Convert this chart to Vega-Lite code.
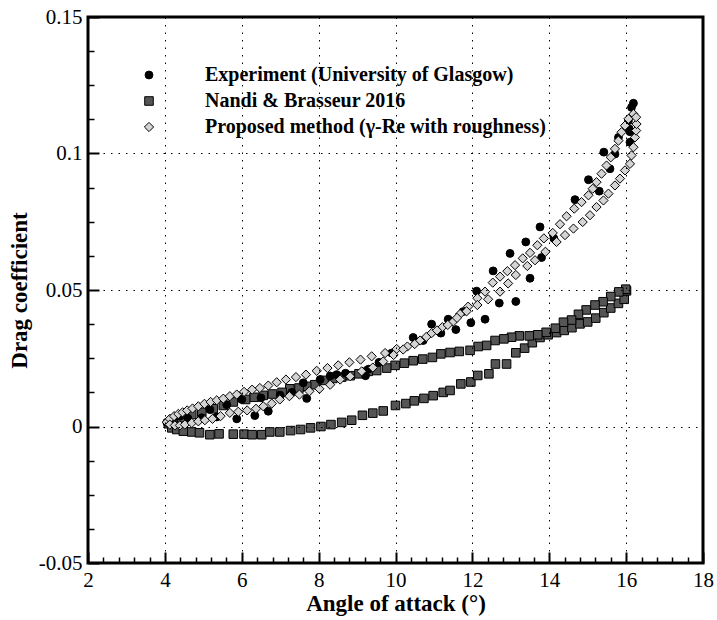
{
  "$schema": "https://vega.github.io/schema/vega-lite/v6.json",
  "width": 615,
  "height": 546,
  "autosize": {"type": "none"},
  "padding": {"left": 88, "top": 17, "right": 14, "bottom": 57},
  "background": "white",
  "config": {
    "view": {"stroke": "black", "strokeWidth": 3},
    "font": "Times New Roman, Liberation Serif, serif",
    "axis": {"labelFont": "Times New Roman, Liberation Serif, serif", "titleFont": "Times New Roman, Liberation Serif, serif"},
    "legend": {"labelFont": "Times New Roman, Liberation Serif, serif"}
  },
  "datasets": {
    "pts": [
      {"s":"Nandi & Brasseur 2016","a":4.09,"cd":0.001},{"s":"Nandi & Brasseur 2016","a":4.18,"cd":-0.0005},{"s":"Nandi & Brasseur 2016","a":4.31,"cd":-0.0011},{"s":"Nandi & Brasseur 2016","a":4.48,"cd":-0.0017},{"s":"Nandi & Brasseur 2016","a":4.7,"cd":-0.002},{"s":"Nandi & Brasseur 2016","a":4.9,"cd":-0.0023},{"s":"Nandi & Brasseur 2016","a":5.17,"cd":-0.003},{"s":"Nandi & Brasseur 2016","a":5.41,"cd":-0.0027},{"s":"Nandi & Brasseur 2016","a":5.78,"cd":-0.0028},{"s":"Nandi & Brasseur 2016","a":6.06,"cd":-0.0028},{"s":"Nandi & Brasseur 2016","a":6.27,"cd":-0.003},{"s":"Nandi & Brasseur 2016","a":6.52,"cd":-0.003},{"s":"Nandi & Brasseur 2016","a":6.73,"cd":-0.002},{"s":"Nandi & Brasseur 2016","a":6.99,"cd":-0.002},{"s":"Nandi & Brasseur 2016","a":7.27,"cd":-0.0015},{"s":"Nandi & Brasseur 2016","a":7.53,"cd":-0.0011},{"s":"Nandi & Brasseur 2016","a":7.79,"cd":-0.0005},{"s":"Nandi & Brasseur 2016","a":8.06,"cd":0.0},{"s":"Nandi & Brasseur 2016","a":8.32,"cd":0.0007},{"s":"Nandi & Brasseur 2016","a":8.6,"cd":0.0015},{"s":"Nandi & Brasseur 2016","a":8.86,"cd":0.0023},{"s":"Nandi & Brasseur 2016","a":9.14,"cd":0.0041},{"s":"Nandi & Brasseur 2016","a":9.41,"cd":0.0049},{"s":"Nandi & Brasseur 2016","a":9.68,"cd":0.0057},{"s":"Nandi & Brasseur 2016","a":10.0,"cd":0.0077},{"s":"Nandi & Brasseur 2016","a":10.27,"cd":0.0084},{"s":"Nandi & Brasseur 2016","a":10.49,"cd":0.0094},{"s":"Nandi & Brasseur 2016","a":10.74,"cd":0.0103},{"s":"Nandi & Brasseur 2016","a":10.98,"cd":0.0113},{"s":"Nandi & Brasseur 2016","a":11.24,"cd":0.0125},{"s":"Nandi & Brasseur 2016","a":11.42,"cd":0.0132},{"s":"Nandi & Brasseur 2016","a":11.7,"cd":0.0156},{"s":"Nandi & Brasseur 2016","a":11.96,"cd":0.0163},{"s":"Nandi & Brasseur 2016","a":12.14,"cd":0.0187},{"s":"Nandi & Brasseur 2016","a":12.43,"cd":0.0193},{"s":"Nandi & Brasseur 2016","a":12.6,"cd":0.0229},{"s":"Nandi & Brasseur 2016","a":12.89,"cd":0.0229},{"s":"Nandi & Brasseur 2016","a":13.13,"cd":0.027},{"s":"Nandi & Brasseur 2016","a":13.36,"cd":0.0287},{"s":"Nandi & Brasseur 2016","a":13.56,"cd":0.0307},{"s":"Nandi & Brasseur 2016","a":13.76,"cd":0.0326},{"s":"Nandi & Brasseur 2016","a":13.97,"cd":0.0336},{"s":"Nandi & Brasseur 2016","a":14.19,"cd":0.0344},{"s":"Nandi & Brasseur 2016","a":14.39,"cd":0.0352},{"s":"Nandi & Brasseur 2016","a":14.59,"cd":0.0362},{"s":"Nandi & Brasseur 2016","a":14.8,"cd":0.0376},{"s":"Nandi & Brasseur 2016","a":15.0,"cd":0.0383},{"s":"Nandi & Brasseur 2016","a":15.21,"cd":0.0397},{"s":"Nandi & Brasseur 2016","a":15.42,"cd":0.0417},{"s":"Nandi & Brasseur 2016","a":15.6,"cd":0.0434},{"s":"Nandi & Brasseur 2016","a":15.8,"cd":0.0451},{"s":"Nandi & Brasseur 2016","a":15.95,"cd":0.0466},{"s":"Nandi & Brasseur 2016","a":16.01,"cd":0.0497},
      {"s":"Nandi & Brasseur 2016","a":15.99,"cd":0.0503},{"s":"Nandi & Brasseur 2016","a":15.81,"cd":0.0493},{"s":"Nandi & Brasseur 2016","a":15.6,"cd":0.0476},{"s":"Nandi & Brasseur 2016","a":15.4,"cd":0.0457},{"s":"Nandi & Brasseur 2016","a":15.19,"cd":0.0445},{"s":"Nandi & Brasseur 2016","a":14.96,"cd":0.0427},{"s":"Nandi & Brasseur 2016","a":14.76,"cd":0.0411},{"s":"Nandi & Brasseur 2016","a":14.58,"cd":0.039},{"s":"Nandi & Brasseur 2016","a":14.37,"cd":0.0382},{"s":"Nandi & Brasseur 2016","a":14.16,"cd":0.036},{"s":"Nandi & Brasseur 2016","a":13.92,"cd":0.0345},{"s":"Nandi & Brasseur 2016","a":13.7,"cd":0.0336},{"s":"Nandi & Brasseur 2016","a":13.48,"cd":0.0332},{"s":"Nandi & Brasseur 2016","a":13.22,"cd":0.0332},{"s":"Nandi & Brasseur 2016","a":13.02,"cd":0.0327},{"s":"Nandi & Brasseur 2016","a":12.82,"cd":0.0321},{"s":"Nandi & Brasseur 2016","a":12.59,"cd":0.0315},{"s":"Nandi & Brasseur 2016","a":12.37,"cd":0.0297},{"s":"Nandi & Brasseur 2016","a":12.15,"cd":0.0293},{"s":"Nandi & Brasseur 2016","a":11.94,"cd":0.0279},{"s":"Nandi & Brasseur 2016","a":11.66,"cd":0.0275},{"s":"Nandi & Brasseur 2016","a":11.42,"cd":0.0271},{"s":"Nandi & Brasseur 2016","a":11.18,"cd":0.0266},{"s":"Nandi & Brasseur 2016","a":10.96,"cd":0.0253},{"s":"Nandi & Brasseur 2016","a":10.71,"cd":0.0247},{"s":"Nandi & Brasseur 2016","a":10.46,"cd":0.0241},{"s":"Nandi & Brasseur 2016","a":10.23,"cd":0.0232},{"s":"Nandi & Brasseur 2016","a":9.99,"cd":0.0224},{"s":"Nandi & Brasseur 2016","a":9.77,"cd":0.0214},{"s":"Nandi & Brasseur 2016","a":9.51,"cd":0.0205},{"s":"Nandi & Brasseur 2016","a":9.29,"cd":0.0202},{"s":"Nandi & Brasseur 2016","a":9.05,"cd":0.0193},{"s":"Nandi & Brasseur 2016","a":8.82,"cd":0.0186},{"s":"Nandi & Brasseur 2016","a":8.6,"cd":0.0181},{"s":"Nandi & Brasseur 2016","a":8.37,"cd":0.0176},{"s":"Nandi & Brasseur 2016","a":8.14,"cd":0.0169},{"s":"Nandi & Brasseur 2016","a":7.9,"cd":0.0153},{"s":"Nandi & Brasseur 2016","a":7.69,"cd":0.0147},{"s":"Nandi & Brasseur 2016","a":7.49,"cd":0.0141},{"s":"Nandi & Brasseur 2016","a":7.25,"cd":0.0138},{"s":"Nandi & Brasseur 2016","a":7.05,"cd":0.0125},{"s":"Nandi & Brasseur 2016","a":6.8,"cd":0.0119},{"s":"Nandi & Brasseur 2016","a":6.56,"cd":0.0114},{"s":"Nandi & Brasseur 2016","a":6.32,"cd":0.0107},{"s":"Nandi & Brasseur 2016","a":6.1,"cd":0.0099},{"s":"Nandi & Brasseur 2016","a":5.78,"cd":0.009},{"s":"Nandi & Brasseur 2016","a":5.52,"cd":0.0077},{"s":"Nandi & Brasseur 2016","a":5.26,"cd":0.0065},{"s":"Nandi & Brasseur 2016","a":4.96,"cd":0.0052},{"s":"Nandi & Brasseur 2016","a":4.7,"cd":0.0044},{"s":"Nandi & Brasseur 2016","a":4.44,"cd":0.0032},{"s":"Nandi & Brasseur 2016","a":4.22,"cd":0.002},
      {"s":"Experiment (University of Glasgow)","a":4.05,"cd":0.0015},{"s":"Experiment (University of Glasgow)","a":4.2,"cd":0.0025},{"s":"Experiment (University of Glasgow)","a":4.39,"cd":0.0038},{"s":"Experiment (University of Glasgow)","a":4.6,"cd":0.003},{"s":"Experiment (University of Glasgow)","a":4.96,"cd":0.0032},{"s":"Experiment (University of Glasgow)","a":5.17,"cd":0.0062},{"s":"Experiment (University of Glasgow)","a":5.35,"cd":0.0035},{"s":"Experiment (University of Glasgow)","a":5.61,"cd":0.008},{"s":"Experiment (University of Glasgow)","a":5.87,"cd":0.0028},{"s":"Experiment (University of Glasgow)","a":6.0,"cd":0.0099},{"s":"Experiment (University of Glasgow)","a":6.34,"cd":0.004},{"s":"Experiment (University of Glasgow)","a":6.5,"cd":0.0105},{"s":"Experiment (University of Glasgow)","a":6.69,"cd":0.0056},{"s":"Experiment (University of Glasgow)","a":7.0,"cd":0.0115},{"s":"Experiment (University of Glasgow)","a":7.3,"cd":0.0125},{"s":"Experiment (University of Glasgow)","a":7.6,"cd":0.016},{"s":"Experiment (University of Glasgow)","a":7.69,"cd":0.0103},{"s":"Experiment (University of Glasgow)","a":8.04,"cd":0.0172},{"s":"Experiment (University of Glasgow)","a":8.3,"cd":0.0185},{"s":"Experiment (University of Glasgow)","a":8.47,"cd":0.019},{"s":"Experiment (University of Glasgow)","a":8.7,"cd":0.0195},{"s":"Experiment (University of Glasgow)","a":9.22,"cd":0.0186},{"s":"Experiment (University of Glasgow)","a":9.3,"cd":0.021},{"s":"Experiment (University of Glasgow)","a":9.57,"cd":0.0235},{"s":"Experiment (University of Glasgow)","a":9.9,"cd":0.0269},{"s":"Experiment (University of Glasgow)","a":10.46,"cd":0.0326},{"s":"Experiment (University of Glasgow)","a":10.72,"cd":0.0315},{"s":"Experiment (University of Glasgow)","a":10.94,"cd":0.0375},{"s":"Experiment (University of Glasgow)","a":11.18,"cd":0.0342},{"s":"Experiment (University of Glasgow)","a":11.37,"cd":0.0393},{"s":"Experiment (University of Glasgow)","a":11.57,"cd":0.0355},{"s":"Experiment (University of Glasgow)","a":11.76,"cd":0.0421},{"s":"Experiment (University of Glasgow)","a":11.96,"cd":0.038},{"s":"Experiment (University of Glasgow)","a":12.11,"cd":0.0496},{"s":"Experiment (University of Glasgow)","a":12.33,"cd":0.0393},{"s":"Experiment (University of Glasgow)","a":12.54,"cd":0.057},{"s":"Experiment (University of Glasgow)","a":12.7,"cd":0.0452},{"s":"Experiment (University of Glasgow)","a":12.98,"cd":0.0634},{"s":"Experiment (University of Glasgow)","a":13.13,"cd":0.0458},{"s":"Experiment (University of Glasgow)","a":13.39,"cd":0.0676},{"s":"Experiment (University of Glasgow)","a":13.5,"cd":0.0543},{"s":"Experiment (University of Glasgow)","a":13.76,"cd":0.0731},{"s":"Experiment (University of Glasgow)","a":13.8,"cd":0.0619},{"s":"Experiment (University of Glasgow)","a":14.12,"cd":0.0689},{"s":"Experiment (University of Glasgow)","a":14.67,"cd":0.0831},{"s":"Experiment (University of Glasgow)","a":15.02,"cd":0.0904},{"s":"Experiment (University of Glasgow)","a":15.3,"cd":0.0862},{"s":"Experiment (University of Glasgow)","a":15.42,"cd":0.1005},{"s":"Experiment (University of Glasgow)","a":15.58,"cd":0.0944},{"s":"Experiment (University of Glasgow)","a":15.71,"cd":0.0998},{"s":"Experiment (University of Glasgow)","a":15.8,"cd":0.1059},{"s":"Experiment (University of Glasgow)","a":16.08,"cd":0.109},{"s":"Experiment (University of Glasgow)","a":16.1,"cd":0.1041},{"s":"Experiment (University of Glasgow)","a":16.06,"cd":0.112},{"s":"Experiment (University of Glasgow)","a":16.14,"cd":0.1169},{"s":"Experiment (University of Glasgow)","a":16.19,"cd":0.1184},{"s":"Experiment (University of Glasgow)","a":16.1,"cd":0.108},
      {"s":"Proposed method (γ-Re with roughness)","a":4.05,"cd":0.0016},{"s":"Proposed method (γ-Re with roughness)","a":4.13,"cd":0.0028},{"s":"Proposed method (γ-Re with roughness)","a":4.24,"cd":0.0038},{"s":"Proposed method (γ-Re with roughness)","a":4.35,"cd":0.0046},{"s":"Proposed method (γ-Re with roughness)","a":4.46,"cd":0.0052},{"s":"Proposed method (γ-Re with roughness)","a":4.58,"cd":0.0059},{"s":"Proposed method (γ-Re with roughness)","a":4.72,"cd":0.0066},{"s":"Proposed method (γ-Re with roughness)","a":4.87,"cd":0.0074},{"s":"Proposed method (γ-Re with roughness)","a":5.03,"cd":0.0083},{"s":"Proposed method (γ-Re with roughness)","a":5.19,"cd":0.009},{"s":"Proposed method (γ-Re with roughness)","a":5.35,"cd":0.0096},{"s":"Proposed method (γ-Re with roughness)","a":5.52,"cd":0.0102},{"s":"Proposed method (γ-Re with roughness)","a":5.69,"cd":0.0111},{"s":"Proposed method (γ-Re with roughness)","a":5.87,"cd":0.0117},{"s":"Proposed method (γ-Re with roughness)","a":6.06,"cd":0.0127},{"s":"Proposed method (γ-Re with roughness)","a":6.27,"cd":0.0135},{"s":"Proposed method (γ-Re with roughness)","a":6.47,"cd":0.0141},{"s":"Proposed method (γ-Re with roughness)","a":6.69,"cd":0.015},{"s":"Proposed method (γ-Re with roughness)","a":6.91,"cd":0.0162},{"s":"Proposed method (γ-Re with roughness)","a":7.15,"cd":0.0172},{"s":"Proposed method (γ-Re with roughness)","a":7.41,"cd":0.0181},{"s":"Proposed method (γ-Re with roughness)","a":7.67,"cd":0.019},{"s":"Proposed method (γ-Re with roughness)","a":7.95,"cd":0.0204},{"s":"Proposed method (γ-Re with roughness)","a":8.23,"cd":0.0214},{"s":"Proposed method (γ-Re with roughness)","a":8.51,"cd":0.0224},{"s":"Proposed method (γ-Re with roughness)","a":8.8,"cd":0.0235},{"s":"Proposed method (γ-Re with roughness)","a":9.09,"cd":0.0245},{"s":"Proposed method (γ-Re with roughness)","a":9.38,"cd":0.0257},{"s":"Proposed method (γ-Re with roughness)","a":9.73,"cd":0.0269},{"s":"Proposed method (γ-Re with roughness)","a":10.03,"cd":0.0284},{"s":"Proposed method (γ-Re with roughness)","a":10.31,"cd":0.0293},{"s":"Proposed method (γ-Re with roughness)","a":10.64,"cd":0.0315},{"s":"Proposed method (γ-Re with roughness)","a":10.94,"cd":0.0342},{"s":"Proposed method (γ-Re with roughness)","a":11.22,"cd":0.0364},{"s":"Proposed method (γ-Re with roughness)","a":11.5,"cd":0.0384},{"s":"Proposed method (γ-Re with roughness)","a":11.68,"cd":0.0412},{"s":"Proposed method (γ-Re with roughness)","a":11.89,"cd":0.0439},{"s":"Proposed method (γ-Re with roughness)","a":12.13,"cd":0.047},{"s":"Proposed method (γ-Re with roughness)","a":12.33,"cd":0.0494},{"s":"Proposed method (γ-Re with roughness)","a":12.53,"cd":0.0527},{"s":"Proposed method (γ-Re with roughness)","a":12.72,"cd":0.0549},{"s":"Proposed method (γ-Re with roughness)","a":12.91,"cd":0.0569},{"s":"Proposed method (γ-Re with roughness)","a":13.11,"cd":0.0591},{"s":"Proposed method (γ-Re with roughness)","a":13.31,"cd":0.0616},{"s":"Proposed method (γ-Re with roughness)","a":13.5,"cd":0.0636},{"s":"Proposed method (γ-Re with roughness)","a":13.69,"cd":0.0664},{"s":"Proposed method (γ-Re with roughness)","a":13.86,"cd":0.0689},{"s":"Proposed method (γ-Re with roughness)","a":14.09,"cd":0.0709},{"s":"Proposed method (γ-Re with roughness)","a":14.28,"cd":0.0741},{"s":"Proposed method (γ-Re with roughness)","a":14.45,"cd":0.077},{"s":"Proposed method (γ-Re with roughness)","a":14.65,"cd":0.0798},{"s":"Proposed method (γ-Re with roughness)","a":14.84,"cd":0.0822},{"s":"Proposed method (γ-Re with roughness)","a":15.02,"cd":0.0847},{"s":"Proposed method (γ-Re with roughness)","a":15.13,"cd":0.0871},{"s":"Proposed method (γ-Re with roughness)","a":15.23,"cd":0.0895},{"s":"Proposed method (γ-Re with roughness)","a":15.36,"cd":0.0926},{"s":"Proposed method (γ-Re with roughness)","a":15.49,"cd":0.0956},{"s":"Proposed method (γ-Re with roughness)","a":15.6,"cd":0.0986},{"s":"Proposed method (γ-Re with roughness)","a":15.71,"cd":0.1017},{"s":"Proposed method (γ-Re with roughness)","a":15.8,"cd":0.1047},{"s":"Proposed method (γ-Re with roughness)","a":15.88,"cd":0.1078},{"s":"Proposed method (γ-Re with roughness)","a":15.97,"cd":0.1102},{"s":"Proposed method (γ-Re with roughness)","a":16.06,"cd":0.1127},{"s":"Proposed method (γ-Re with roughness)","a":16.19,"cd":0.1145},
      {"s":"Proposed method (γ-Re with roughness)","a":4.13,"cd":0.0007},{"s":"Proposed method (γ-Re with roughness)","a":4.26,"cd":0.0004},{"s":"Proposed method (γ-Re with roughness)","a":4.39,"cd":0.0004},{"s":"Proposed method (γ-Re with roughness)","a":4.52,"cd":0.0007},{"s":"Proposed method (γ-Re with roughness)","a":4.7,"cd":0.0013},{"s":"Proposed method (γ-Re with roughness)","a":4.87,"cd":0.0019},{"s":"Proposed method (γ-Re with roughness)","a":5.04,"cd":0.0023},{"s":"Proposed method (γ-Re with roughness)","a":5.24,"cd":0.0028},{"s":"Proposed method (γ-Re with roughness)","a":5.45,"cd":0.0038},{"s":"Proposed method (γ-Re with roughness)","a":5.69,"cd":0.005},{"s":"Proposed method (γ-Re with roughness)","a":5.91,"cd":0.0054},{"s":"Proposed method (γ-Re with roughness)","a":6.14,"cd":0.0059},{"s":"Proposed method (γ-Re with roughness)","a":6.37,"cd":0.0065},{"s":"Proposed method (γ-Re with roughness)","a":6.56,"cd":0.0074},{"s":"Proposed method (γ-Re with roughness)","a":6.78,"cd":0.0084},{"s":"Proposed method (γ-Re with roughness)","a":6.99,"cd":0.0099},{"s":"Proposed method (γ-Re with roughness)","a":7.24,"cd":0.0111},{"s":"Proposed method (γ-Re with roughness)","a":7.5,"cd":0.0117},{"s":"Proposed method (γ-Re with roughness)","a":7.76,"cd":0.0129},{"s":"Proposed method (γ-Re with roughness)","a":8.02,"cd":0.0138},{"s":"Proposed method (γ-Re with roughness)","a":8.3,"cd":0.0153},{"s":"Proposed method (γ-Re with roughness)","a":8.56,"cd":0.0172},{"s":"Proposed method (γ-Re with roughness)","a":8.82,"cd":0.0184},{"s":"Proposed method (γ-Re with roughness)","a":9.12,"cd":0.0202},{"s":"Proposed method (γ-Re with roughness)","a":9.41,"cd":0.0216},{"s":"Proposed method (γ-Re with roughness)","a":9.68,"cd":0.0238},{"s":"Proposed method (γ-Re with roughness)","a":9.95,"cd":0.0262},{"s":"Proposed method (γ-Re with roughness)","a":10.2,"cd":0.0282},{"s":"Proposed method (γ-Re with roughness)","a":10.5,"cd":0.0302},{"s":"Proposed method (γ-Re with roughness)","a":10.8,"cd":0.0328},{"s":"Proposed method (γ-Re with roughness)","a":11.08,"cd":0.0352},{"s":"Proposed method (γ-Re with roughness)","a":11.36,"cd":0.0372},{"s":"Proposed method (γ-Re with roughness)","a":11.6,"cd":0.0398},{"s":"Proposed method (γ-Re with roughness)","a":11.85,"cd":0.0422},{"s":"Proposed method (γ-Re with roughness)","a":12.13,"cd":0.0445},{"s":"Proposed method (γ-Re with roughness)","a":12.41,"cd":0.0466},{"s":"Proposed method (γ-Re with roughness)","a":12.72,"cd":0.0494},{"s":"Proposed method (γ-Re with roughness)","a":12.93,"cd":0.0524},{"s":"Proposed method (γ-Re with roughness)","a":13.13,"cd":0.0555},{"s":"Proposed method (γ-Re with roughness)","a":13.43,"cd":0.0588},{"s":"Proposed method (γ-Re with roughness)","a":13.63,"cd":0.0609},{"s":"Proposed method (γ-Re with roughness)","a":13.9,"cd":0.064},{"s":"Proposed method (γ-Re with roughness)","a":14.19,"cd":0.0676},{"s":"Proposed method (γ-Re with roughness)","a":14.41,"cd":0.0701},{"s":"Proposed method (γ-Re with roughness)","a":14.63,"cd":0.0725},{"s":"Proposed method (γ-Re with roughness)","a":14.87,"cd":0.0749},{"s":"Proposed method (γ-Re with roughness)","a":15.06,"cd":0.0774},{"s":"Proposed method (γ-Re with roughness)","a":15.23,"cd":0.0804},{"s":"Proposed method (γ-Re with roughness)","a":15.41,"cd":0.0828},{"s":"Proposed method (γ-Re with roughness)","a":15.54,"cd":0.0853},{"s":"Proposed method (γ-Re with roughness)","a":15.71,"cd":0.0883},{"s":"Proposed method (γ-Re with roughness)","a":15.84,"cd":0.0908},{"s":"Proposed method (γ-Re with roughness)","a":15.97,"cd":0.0938},{"s":"Proposed method (γ-Re with roughness)","a":16.1,"cd":0.0962},{"s":"Proposed method (γ-Re with roughness)","a":16.14,"cd":0.0993},{"s":"Proposed method (γ-Re with roughness)","a":16.19,"cd":0.1023},{"s":"Proposed method (γ-Re with roughness)","a":16.23,"cd":0.1059},{"s":"Proposed method (γ-Re with roughness)","a":16.26,"cd":0.1084},{"s":"Proposed method (γ-Re with roughness)","a":16.27,"cd":0.1108},{"s":"Proposed method (γ-Re with roughness)","a":16.26,"cd":0.1133}
    ]
  },
  "data": {"name": "pts"},
  "resolve": {"axis": {"x": "independent", "y": "independent"}},
  "layer": [
    {
      "mark": {"type": "point", "opacity": 0},
      "encoding": {
        "x": {"field": "a", "type": "quantitative", "scale": {"domain": [2, 18], "nice": false, "zero": false},
          "axis": {"orient": "bottom", "zindex": 2, "values": [2.4,2.8,3.2,3.6,4.4,4.8,5.2,5.6,6.4,6.8,7.2,7.6,8.4,8.8,9.2,9.6,10.4,10.8,11.2,11.6,12.4,12.8,13.2,13.6,14.4,14.8,15.2,15.6,16.4,16.8,17.2,17.6], "labels": false, "title": null, "domain": false, "grid": false, "tickSize": -6, "tickColor": "black", "tickWidth": 1.5}},
        "y": {"field": "cd", "type": "quantitative", "scale": {"domain": [-0.05, 0.15], "nice": false, "zero": false},
          "axis": {"orient": "left", "zindex": 2, "values": [-0.0375,-0.025,-0.0125,0.0125,0.025,0.0375,0.0625,0.075,0.0875,0.1125,0.125,0.1375], "labels": false, "title": null, "domain": false, "grid": false, "tickSize": -6, "tickColor": "black", "tickWidth": 1.5}}
      }
    },
    {
      "mark": {"type": "point", "filled": true, "stroke": "black", "strokeWidth": 1, "opacity": 1},
      "encoding": {
        "x": {"field": "a", "type": "quantitative",
          "axis": {"orient": "bottom", "zindex": 2, "values": [2,4,6,8,10,12,14,16,18], "title": "Angle of attack (°)", "domain": false,
            "grid": true, "gridColor": "black", "gridDash": [1.5, 6], "gridWidth": 1,
            "tickSize": -11, "tickColor": "black", "tickWidth": 2, "labelPadding": 17,
            "labelFontSize": 21, "labelColor": "black", "labelFlush": false,
            "titleFontSize": 23, "titleFontWeight": "bold", "titleColor": "black", "titlePadding": 2}},
        "y": {"field": "cd", "type": "quantitative",
          "axis": {"orient": "left", "zindex": 2, "values": [-0.05,0,0.05,0.1,0.15], "title": "Drag coefficient", "domain": false,
            "labelExpr": "datum.value < 0 ? '-' + format(-datum.value, '~g') : format(datum.value, '~g')",
            "grid": true, "gridColor": "black", "gridDash": [1.5, 6], "gridWidth": 1,
            "tickSize": -11, "tickColor": "black", "tickWidth": 2, "labelPadding": 17,
            "labelFontSize": 21, "labelColor": "black", "labelFlush": false,
            "titleFontSize": 23, "titleFontWeight": "bold", "titleColor": "black", "titlePadding": 7}},
        "shape": {"field": "s", "type": "nominal",
          "scale": {"domain": ["Experiment (University of Glasgow)", "Nandi & Brasseur 2016", "Proposed method (γ-Re with roughness)"], "range": ["circle", "square", "diamond"]},
          "legend": {"title": null, "orient": "none", "legendX": 51, "legendY": 48, "padding": 0,
            "labelFontSize": 20, "labelFontWeight": "bold", "labelColor": "black",
            "labelOffset": 46, "rowPadding": 6, "labelLimit": 600, "symbolStrokeWidth": 1, "symbolStrokeColor": "black"}},
        "fill": {"field": "s", "type": "nominal",
          "scale": {"domain": ["Experiment (University of Glasgow)", "Nandi & Brasseur 2016", "Proposed method (γ-Re with roughness)"], "range": ["#000000", "#555555", "#d4d4d4"]}},
        "size": {"field": "s", "type": "nominal",
          "scale": {"domain": ["Experiment (University of Glasgow)", "Nandi & Brasseur 2016", "Proposed method (γ-Re with roughness)"], "range": [62, 85, 150]}}
      }
    }
  ]
}
